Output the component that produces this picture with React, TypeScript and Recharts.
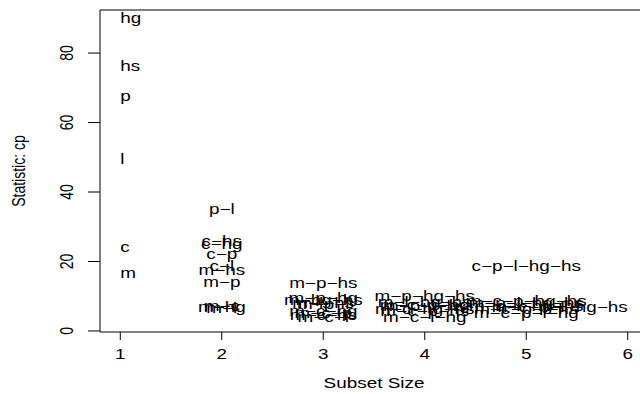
import { ReferenceArea, Scatter, ScatterChart, XAxis, YAxis } from "recharts";

// subset labels and Mallows' Cp, one pair of arrays per subset size
const size1Labels = ["hg", "hs", "p", "l", "c", "m"];
const size1Cp = [90.1, 76.3, 67.6, 49.5, 24.2, 16.7];

const size2Labels = ["p−l", "c−hs", "c−hg", "c−p", "c−l", "m−hs", "m−p", "m−c", "m−hg", "m−l"];
const size2Cp = [35.1, 25.9, 25.0, 22.2, 18.7, 17.6, 14.1, 7.3, 6.9, 6.6];

const size3Labels = ["m−p−hs", "m−p−hg", "m−hg−hs", "m−l−hs", "m−p−l", "m−c−hg", "m−c−p", "m−c−hs", "m−c−l"];
const size3Cp = [13.8, 9.4, 8.8, 7.9, 7.6, 5.7, 5.0, 4.5, 4.0];

const size4Labels = ["m−p−hg−hs", "m−l−hg−hs", "m−c−p−hg", "m−p−l−hs", "m−c−hg−hs", "m−c−p−hs", "m−c−l−hg"];
const size4Cp = [9.9, 8.3, 7.5, 7.1, 6.3, 5.8, 4.0];

const size5Labels = ["c−p−l−hg−hs", "m−c−p−hg−hs", "m−p−l−hg−hs", "m−c−l−hg−hs", "m−c−p−l−hs", "m−c−p−l−hg"];
const size5Cp = [18.7, 8.6, 8.1, 7.2, 6.3, 5.2];

const size6Labels = ["m−c−p−l−hg−hs"];
const size6Cp = [7.0];

const xTicks = [1, 2, 3, 4, 5, 6];
const yTicks = [0, 20, 40, 60, 80];

const FONT = '"Liberation Sans", Arial, Helvetica, sans-serif';
const FONT_SIZE = 14;
const STRETCH = 1.35;

const groups = [
  { size: 1, labels: size1Labels, cp: size1Cp },
  { size: 2, labels: size2Labels, cp: size2Cp },
  { size: 3, labels: size3Labels, cp: size3Cp },
  { size: 4, labels: size4Labels, cp: size4Cp },
  { size: 5, labels: size5Labels, cp: size5Cp },
  { size: 6, labels: size6Labels, cp: size6Cp },
];

const points = groups.flatMap((g) =>
  g.labels.map((label, i) => ({ size: g.size, cp: g.cp[i], label })),
);

function StretchText({
  x,
  y,
  anchor = "middle",
  rotate,
  children,
}: {
  x: number;
  y: number;
  anchor?: "start" | "middle" | "end";
  rotate?: number;
  children: string;
}) {
  const transform =
    `translate(${x},${y}) scale(${STRETCH},1)` + (rotate ? ` rotate(${rotate})` : "");
  return (
    <text
      transform={transform}
      textAnchor={anchor}
      dy="0.35em"
      fontFamily={FONT}
      fontSize={FONT_SIZE}
      fill="#000"
    >
      {children}
    </text>
  );
}

function SubsetLabel(props: any) {
  const { cx, cy, payload } = props;
  const anchor = payload.size === 1 ? "start" : payload.size === 6 ? "end" : "middle";
  return (
    <StretchText x={cx} y={cy} anchor={anchor}>
      {payload.label}
    </StretchText>
  );
}

function XTick(props: any) {
  return <StretchText x={props.x} y={props.y + 14}>{String(props.payload.value)}</StretchText>;
}

function YTick(props: any) {
  return (
    <StretchText x={props.x - 22} y={props.y} rotate={-90}>
      {String(props.payload.value)}
    </StretchText>
  );
}

function XTitle(props: any) {
  const { x, y, width } = props.viewBox;
  return <StretchText x={x + width / 2} y={y + 51}>Subset Size</StretchText>;
}

function YTitle(props: any) {
  const { x, y, height } = props.viewBox;
  return (
    <StretchText x={x - 22} y={y + height / 2} rotate={-90}>
      Statistic: cp
    </StretchText>
  );
}

export default function App() {
  return (
    <div
      style={{
        position: "fixed",
        left: 0,
        top: 0,
        width: 640,
        height: 394,
        overflow: "hidden",
        background: "#fff",
      }}
    >
      <ScatterChart width={660} height={394} margin={{ top: 10, right: 12, bottom: 10, left: 40 }}>
        <XAxis
          type="number"
          dataKey="size"
          domain={[0.8, 6.2]}
          ticks={xTicks}
          allowDataOverflow
          axisLine={false}
          tickLine={{ stroke: "#000" }}
          tickSize={8}
          tickMargin={0}
          height={52}
          tick={<XTick />}
          label={{ content: <XTitle /> }}
        />
        <YAxis
          type="number"
          dataKey="cp"
          domain={[-0.3, 92.4]}
          ticks={yTicks}
          allowDataOverflow
          axisLine={false}
          tickLine={{ stroke: "#000" }}
          tickSize={12}
          tickMargin={0}
          width={60}
          tick={<YTick />}
          label={{ content: <YTitle /> }}
        />
        <ReferenceArea
          x1={0.8}
          x2={6.2}
          y1={-0.3}
          y2={92.4}
          fill="none"
          stroke="#000"
          strokeWidth={1}
          ifOverflow="visible"
        />
        <Scatter data={points} shape={<SubsetLabel />} isAnimationActive={false} />
      </ScatterChart>
    </div>
  );
}
